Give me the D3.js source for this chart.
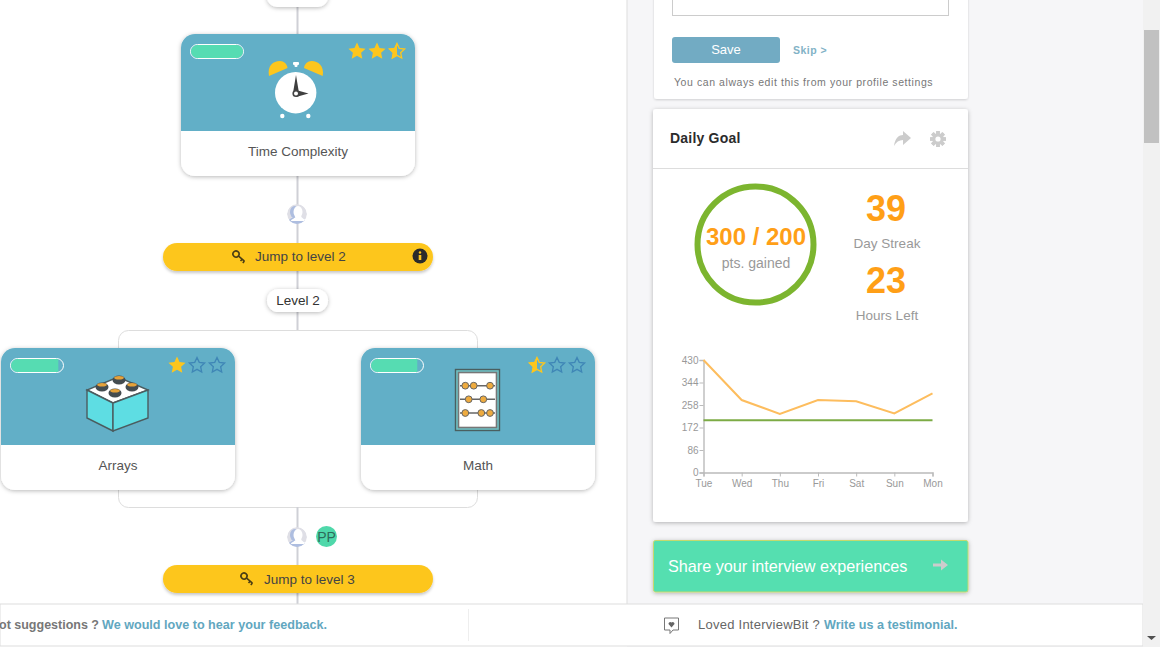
<!DOCTYPE html>
<html>
<head>
<meta charset="utf-8">
<script src="https://cdn.jsdelivr.net/npm/d3@7"></script>
<style>
  html, body { margin: 0; padding: 0; background: #f6f6f8; }
  svg { display: block; font-family: "Liberation Sans", Arial, sans-serif; }
  .tick text { font-family: "Liberation Sans", Arial, sans-serif; }
</style>
</head>
<body>
<svg width="1160" height="647"></svg>
<script>
// chart values
const days = ['Tue', 'Wed', 'Thu', 'Fri', 'Sat', 'Sun', 'Mon'];
const points = [430, 277, 224, 277, 272, 226, 302];
const goal = [200, 200, 200, 200, 200, 200, 200];
const yTicks = [0, 86, 172, 258, 344, 430];

const svg = d3.select('svg');
const defs = svg.append('defs');

const shadow = (id, dy, blur, op) => {
  defs.append('filter').attr('id', id)
    .attr('x', '-10%').attr('y', '-20%').attr('width', '120%').attr('height', '150%')
    .append('feDropShadow')
    .attr('dx', 0).attr('dy', dy).attr('stdDeviation', blur)
    .attr('flood-color', '#000').attr('flood-opacity', op);
};
shadow('soft', 1, 2, 0.28);
shadow('faint', 1, 1.2, 0.16);
shadow('pill', 2, 1.5, 0.22);

const rect = (p, x, y, w, h, r, fill, extra = {}) => {
  const el = p.append('rect').attr('x', x).attr('y', y).attr('width', w).attr('height', h)
    .attr('rx', r).attr('fill', fill);
  Object.entries(extra).forEach(([k, v]) => el.attr(k, v));
  return el;
};
const label = (p, x, y, str, size, fill, anchor = 'middle', weight = 'normal') =>
  p.append('text').attr('x', x).attr('y', y).attr('font-size', size).attr('fill', fill)
    .attr('text-anchor', anchor).attr('font-weight', weight).text(str);

// page panels
rect(svg, 0, 0, 627, 647, 0, '#fff');
svg.append('line').attr('x1', 627).attr('x2', 627).attr('y1', 0).attr('y2', 604).attr('stroke', '#ddd');

// left tree
const tree = svg.append('g');
rect(tree, 118.5, 330.5, 359, 177, 10, 'none', { stroke: '#ddd' });
[[0, 330], [507, 604]].forEach(([y1, y2]) => {
  tree.append('line').attr('x1', 297.5).attr('x2', 297.5).attr('y1', y1).attr('y2', y2)
    .attr('stroke', '#cfd0d6').attr('stroke-width', 2);
});

// five pointed star, fatter than d3.symbolStar
const starShape = outer => d3.lineRadial().curve(d3.curveLinearClosed)(
  d3.range(10).map(i => [i * Math.PI / 5, i % 2 ? outer * 0.48 : outer])
);

const stars = (p, x, y, state) => {
  state.forEach((s, i) => {
    const g = p.append('g').attr('transform', `translate(${x + i * 20},${y})`);
    if (s === 2) {
      g.append('path').attr('d', starShape(9)).attr('fill', '#fdc61d');
    } else if (s === 1) {
      const id = `half${x}${i}`;
      defs.append('clipPath').attr('id', id).append('rect')
        .attr('x', -10).attr('y', -10).attr('width', 10).attr('height', 20);
      g.append('path').attr('d', starShape(8)).attr('fill', 'none').attr('stroke', '#fdc61d').attr('stroke-width', 1.3);
      g.append('path').attr('d', starShape(9)).attr('fill', '#fdc61d').attr('clip-path', `url(#${id})`);
    } else {
      g.append('path').attr('d', starShape(8)).attr('fill', 'none').attr('stroke', '#3f86b6').attr('stroke-width', 1.3);
    }
  });
};

const card = (x, y, title, stateStars, progress) => {
  const g = tree.append('g').attr('transform', `translate(${x},${y})`);
  rect(g, 0, 0, 234, 142, 14, '#fff', { filter: 'url(#soft)' });
  g.append('path').attr('d', 'M0,97V14A14,14 0 0 1 14,0H220A14,14 0 0 1 234,14V97Z').attr('fill', '#62afc7');
  rect(g, 9.5, 10.5, 53, 14, 7, '#62afc7', { stroke: '#fff' });
  defs.append('clipPath').attr('id', `bar${x}`).append('rect')
    .attr('x', 10).attr('y', 11).attr('width', 52 * progress).attr('height', 13);
  rect(g, 10, 11, 52, 13, 6.5, '#56dcb2').attr('clip-path', `url(#bar${x})`);
  stars(g, 176, 17.5, stateStars);
  label(g, 117, 122, title, 13.5, '#555');
  return g;
};

// alarm clock
const clock = card(181, 34, 'Time Complexity', [2, 2, 1], 1);
clock.append('circle').attr('cx', 114.7).attr('cy', 58.7).attr('r', 20.7).attr('fill', '#fff');
clock.append('path').attr('d', 'M88,42 C86,32 92,27 99,27 C103,27 106,30 106.5,34 Z').attr('fill', '#fdc61d');
clock.append('path').attr('d', 'M141.7,42 C143.5,32 137,27 130.7,27 C126.5,27 123.5,30 123,34 Z').attr('fill', '#fdc61d');
rect(clock, 112, 28, 6, 3, 1, '#fff');
rect(clock, 113.5, 29, 3, 4, 1, '#fff');
clock.append('circle').attr('cx', 101.3).attr('cy', 82).attr('r', 2.2).attr('fill', '#fff');
clock.append('circle').attr('cx', 127.3).attr('cy', 82).attr('r', 2.2).attr('fill', '#fff');
clock.append('path').attr('d', 'M115,41 L118,59 L112,59 Z M115,56 L127.5,59.5 L115,63 Z').attr('fill', '#3f3f3f');
clock.append('circle').attr('cx', 115).attr('cy', 59.5).attr('r', 2.8).attr('fill', '#fff').attr('stroke', '#444').attr('stroke-width', 1.6);

// brick
const brick = card(1, 348, 'Arrays', [2, 0, 0], 0.91);
brick.append('path').attr('d', 'M86,42 L112,55 L147,42 L117,29 Z').attr('fill', '#fff').attr('stroke', '#4b5c5f').attr('stroke-width', 1.4);
brick.append('path').attr('d', 'M86,42 L112,55 L112,83 L86,70 Z').attr('fill', '#5edde3').attr('stroke', '#4b5c5f').attr('stroke-width', 1.4);
brick.append('path').attr('d', 'M112,55 L147,42 L147,70 L112,83 Z').attr('fill', '#5edde3').attr('stroke', '#4b5c5f').attr('stroke-width', 1.4);
[[118, 32], [101, 39], [131, 39], [114, 45]].forEach(([cx, cy]) => {
  brick.append('ellipse').attr('cx', cx).attr('cy', cy).attr('rx', 6.5).attr('ry', 4.5).attr('fill', '#444c50');
  brick.append('ellipse').attr('cx', cx).attr('cy', cy - 2.2).attr('rx', 4.8).attr('ry', 1.8).attr('fill', '#e5a23a');
});

// abacus
const abacus = card(361, 348, 'Math', [1, 0, 0], 0.89);
rect(abacus, 94.5, 21.5, 44, 61, 0, '#6fc5c9', { stroke: '#4a5f60', 'stroke-width': 1.4 });
rect(abacus, 97.5, 24.5, 38, 55, 0, '#fff', { stroke: '#777', 'stroke-width': 1.6 });
[[37.7, [104.3, 112.7, 129]], [51.3, [107.7, 122.3]], [65, [104.3, 120.3, 129]]].forEach(([ry, beads]) => {
  abacus.append('line').attr('x1', 99).attr('x2', 134).attr('y1', ry).attr('y2', ry).attr('stroke', '#666').attr('stroke-width', 1.5);
  beads.forEach(bx => abacus.append('circle').attr('cx', bx).attr('cy', ry).attr('r', 3.4)
    .attr('fill', '#eeab3f').attr('stroke', '#666').attr('stroke-width', 1));
});

// level pills
rect(tree, 267, -16, 61, 23, 10, '#fff', { filter: 'url(#soft)' });
rect(tree, 267, 289, 61, 23, 11.5, '#fff', { filter: 'url(#soft)' });
label(tree, 298, 305, 'Level 2', 13.5, '#333');

const keyIcon = (x, y) => {
  const g = tree.append('g').attr('transform', `translate(${x},${y}) rotate(40)`)
    .attr('fill', 'none').attr('stroke', '#4a3d14').attr('stroke-width', 1.6);
  g.append('circle').attr('cx', 0).attr('cy', 0).attr('r', 3);
  g.append('path').attr('d', 'M3,0H11M8,0V2.5M11,0V2.5');
};
const jumpPill = (y, str, keyX, textX, textY) => {
  rect(tree, 163, y, 270, 28, 14, '#fdc61d', { filter: 'url(#pill)' });
  keyIcon(keyX, y + 11);
  label(tree, textX, textY, str, 13.5, '#444', 'start');
};
jumpPill(243, 'Jump to level 2', 236, 255, 261);
jumpPill(565, 'Jump to level 3', 244, 264, 583.5);

// info badge
tree.append('circle').attr('cx', 420).attr('cy', 256).attr('r', 7.5).attr('fill', '#2b2b2b');
tree.append('circle').attr('cx', 420).attr('cy', 252.5).attr('r', 1.2).attr('fill', '#fdc61d');
rect(tree, 418.7, 255, 2.6, 5, 0, '#fdc61d');

// avatars
const avatar = (cx, cy) => {
  defs.append('clipPath').attr('id', `av${cy}`).append('circle').attr('cx', cx).attr('cy', cy).attr('r', 10);
  const a = tree.append('g').attr('clip-path', `url(#av${cy})`);
  a.append('circle').attr('cx', cx).attr('cy', cy).attr('r', 10).attr('fill', '#dfdfe6');
  // blue shade behind, white figure in front
  a.append('ellipse').attr('cx', cx - 2.5).attr('cy', cy - 2).attr('rx', 4.5).attr('ry', 6).attr('fill', '#aebee0');
  a.append('path').attr('d', `M${cx - 9},${cy + 10}C${cx - 9},${cy + 4} ${cx - 5},${cy + 5} ${cx - 3},${cy + 2}H${cx + 3}C${cx + 5},${cy + 5} ${cx + 9},${cy + 4} ${cx + 9},${cy + 10}Z`)
    .attr('fill', '#aebee0');
  a.append('ellipse').attr('cx', cx + 1).attr('cy', cy - 2).attr('rx', 4.5).attr('ry', 6).attr('fill', '#fff');
  a.append('path').attr('d', `M${cx - 6},${cy + 7}C${cx - 6},${cy + 5} ${cx - 2},${cy + 5} ${cx - 1},${cy + 2}H${cx + 4}C${cx + 5},${cy + 5} ${cx + 9},${cy + 5} ${cx + 9},${cy + 7}Z`)
    .attr('fill', '#fff');
};
avatar(297, 214);
avatar(297, 537);
tree.append('circle').attr('cx', 326.5).attr('cy', 536.5).attr('r', 10.5).attr('fill', '#4fd8aa');
label(tree, 326.5, 541.5, 'PP', 14, '#2d6b5a');

// right side: top card
rect(svg, 654, -20, 314, 119, 3, '#fff', { filter: 'url(#faint)' });
rect(svg, 672.5, -10, 276, 25.5, 0, '#fff', { stroke: '#ccc' });
rect(svg, 672, 37, 108, 26, 3, '#72abc3');
label(svg, 726, 54, 'Save', 13, '#fff');
label(svg, 793, 54, 'Skip >', 10.5, '#82b2c6', 'start', 'bold').attr('letter-spacing', 0.5);
label(svg, 674, 86, 'You can always edit this from your profile settings', 10.5, '#777', 'start').attr('letter-spacing', 0.58);

// daily goal card
rect(svg, 653, 109, 315, 413, 3, '#fff', { filter: 'url(#soft)' });
svg.append('line').attr('x1', 653).attr('x2', 968).attr('y1', 168.5).attr('y2', 168.5).attr('stroke', '#ddd');
label(svg, 670, 143, 'Daily Goal', 14, '#2b2b2b', 'start', 'bold').attr('letter-spacing', 0.2);

// share arrow and gear
svg.append('path').attr('d', 'M894,146 C895,138 899,135 903,135 V131 L911,138 L903,145 V140 C899,140 896,142 894,146 Z').attr('fill', '#ccc');
const gear = svg.append('g').attr('transform', 'translate(938,139)');
d3.range(8).forEach(i => rect(gear, -1.8, -8, 3.6, 16, 0.5, '#ccc').attr('transform', `rotate(${i * 45})`));
gear.append('circle').attr('r', 5.8).attr('fill', '#ccc');
gear.append('circle').attr('r', 2.6).attr('fill', '#fff');

// ring and counters
svg.append('circle').attr('cx', 755.5).attr('cy', 244.5).attr('r', 58).attr('fill', 'none')
  .attr('stroke', '#7cb52f').attr('stroke-width', 6);
label(svg, 756, 245, '300 / 200', 24, '#ff9f17', 'middle', 'bold');
label(svg, 756, 268, 'pts. gained', 14, '#999');
label(svg, 886, 221, '39', 36, '#ff9f17', 'middle', 'bold');
label(svg, 887, 248, 'Day Streak', 13.5, '#999');
label(svg, 886, 293, '23', 36, '#ff9f17', 'middle', 'bold');
label(svg, 887, 320, 'Hours Left', 13.5, '#999');

// line chart
const margin = { left: 703.5, top: 360, right: 932.5, bottom: 472.5 };
const innerWidth = margin.right - margin.left;
const innerHeight = margin.bottom - margin.top;

const xScale = d3.scalePoint().domain(days).range([0, innerWidth]);
const yScale = d3.scaleLinear().domain([0, 430]).range([innerHeight, 0]);

const g = svg.append('g').attr('transform', `translate(${margin.left},${margin.top})`);

const xAxis = d3.axisBottom(xScale).tickSize(4).tickPadding(3);
const yAxis = d3.axisLeft(yScale).tickValues(yTicks).tickSize(4).tickPadding(1);

const xAxisG = g.append('g').attr('transform', `translate(0,${innerHeight})`).call(xAxis);
const yAxisG = g.append('g').call(yAxis);
[xAxisG, yAxisG].forEach(a => {
  a.selectAll('.domain').attr('stroke', '#bbb').attr('stroke-width', 1.4);
  a.selectAll('.tick line').attr('stroke', '#bbb');
  a.selectAll('text').attr('fill', '#999').attr('font-size', 10);
});

const lineGenerator = values => d3.line()
  .x((d, i) => xScale(days[i]))
  .y(d => yScale(d))(values);

g.append('path').attr('d', lineGenerator(points)).attr('fill', 'none')
  .attr('stroke', '#fdbd5e').attr('stroke-width', 2);
g.append('path').attr('d', lineGenerator(goal)).attr('fill', 'none')
  .attr('stroke', '#7cab45').attr('stroke-width', 2);

// share button
rect(svg, 653.5, 540.5, 314.5, 51.5, 2, '#55dfb0', { stroke: '#c5d96e', filter: 'url(#soft)' });
label(svg, 668, 572, 'Share your interview experiences', 16.2, '#fff', 'start');
svg.append('path').attr('d', 'M933,563.5H941V559.5L948,565L941,570.5V566.5H933Z').attr('fill', '#ccc');

// bottom bar
rect(svg, 0, 604, 1143, 42, 0, '#fff', { stroke: '#ddd' });
svg.append('line').attr('x1', 468.5).attr('x2', 468.5).attr('y1', 609).attr('y2', 641).attr('stroke', '#eee');
label(svg, 99, 629, 'ot suggestions ?', 12.5, '#777', 'end', 'bold');
label(svg, 102, 629, 'We would love to hear your feedback.', 12.6, '#62a7bf', 'start', 'bold');
label(svg, 698, 629, 'Loved InterviewBit ?', 13, '#666', 'start').attr('letter-spacing', 0.25);
label(svg, 824, 629, 'Write us a testimonial.', 12.6, '#62a7bf', 'start', 'bold');
svg.append('path').attr('d', 'M664.5,618H678.5V630H673L670,633.5V630H664.5Z').attr('fill', '#fff').attr('stroke', '#777');
svg.append('path').attr('d', 'M671.5,627.5L668.5,624A1.8,1.8 0 0 1 671.5,622.5A1.8,1.8 0 0 1 674.5,624Z').attr('fill', '#666');

// scrollbar
rect(svg, 1143, 0, 17, 647, 0, '#f1f1f1');
rect(svg, 1144, 30, 15, 113, 0, '#c1c1c1');
svg.append('path').attr('d', 'M1147,636H1156L1151.5,640Z').attr('fill', '#505050');
</script>
</body>
</html>
